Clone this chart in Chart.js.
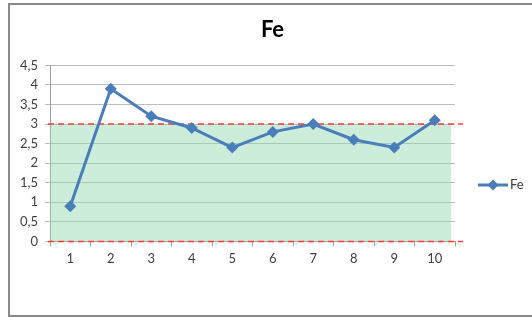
<!DOCTYPE html>
<html>
<head>
<meta charset="utf-8">
<script src="https://cdn.jsdelivr.net/npm/chart.js@4/dist/chart.umd.min.js"></script>
<style>
  html, body { margin: 0; padding: 0; background: #ffffff; }
  #wrap { position: relative; width: 532px; height: 320px; overflow: hidden; }
  #frame { position: absolute; left: 8px; top: 3px; width: 600px; height: 314px; border: 2px solid #8a8a8a; box-sizing: border-box; }
  #c { position: absolute; left: 0; top: 0; }
</style>
</head>
<body>
<div id="wrap">
  <div id="frame"></div>
  <canvas id="c" width="532" height="320"></canvas>
</div>
<script>
// Sample numbers on the x axis
const categories = ['1', '2', '3', '4', '5', '6', '7', '8', '9', '10'];
// Measured Fe concentration per sample
const feValues = [0.9, 3.9, 3.2, 2.9, 2.4, 2.8, 3.0, 2.6, 2.4, 3.1];
// Accepted range (lower and upper limit)
const limitLow = [0];
const limitHigh = [3];
// Y axis tick values
const yTicks = [0, 0.5, 1, 1.5, 2, 2.5, 3, 3.5, 4, 4.5];

const lineColor = '#4a7ebb';
const fontFamily = 'Lato, "Open Sans", sans-serif';

// Green band for the accepted range plus dashed limit lines
const rangeBand = {
  id: 'rangeBand',
  beforeDatasetsDraw(chart) {
    const { ctx, chartArea, scales } = chart;
    const y = scales.y;
    const top = y.getPixelForValue(limitHigh[0]);
    const bottom = y.getPixelForValue(limitLow[0]);
    ctx.save();
    ctx.fillStyle = 'rgba(140, 215, 172, 0.45)';
    ctx.fillRect(chartArea.left, top, chartArea.right - chartArea.left - 4, bottom - top);
    ctx.strokeStyle = '#ff3b3b';
    ctx.lineWidth = 1.5;
    ctx.setLineDash([6, 4]);
    [top, bottom].forEach(py => {
      ctx.beginPath();
      ctx.moveTo(chartArea.left - 2, py);
      ctx.lineTo(chartArea.right + 8, py);
      ctx.stroke();
    });
    ctx.restore();
  }
};

// Legend entry on the right: line with a diamond marker and the series name
const sideLegend = {
  id: 'sideLegend',
  afterDraw(chart) {
    const { ctx } = chart;
    const ds = chart.data.datasets[0];
    const x0 = 478, x1 = 508, cy = 185;
    ctx.save();
    ctx.strokeStyle = ds.borderColor;
    ctx.lineWidth = 3;
    ctx.beginPath();
    ctx.moveTo(x0, cy);
    ctx.lineTo(x1, cy);
    ctx.stroke();
    const cx = (x0 + x1) / 2, r = 5.5;
    ctx.fillStyle = ds.pointBackgroundColor;
    ctx.beginPath();
    ctx.moveTo(cx, cy - r);
    ctx.lineTo(cx + r, cy);
    ctx.lineTo(cx, cy + r);
    ctx.lineTo(cx - r, cy);
    ctx.closePath();
    ctx.fill();
    ctx.fillStyle = '#404040';
    ctx.font = '13px ' + fontFamily;
    ctx.textBaseline = 'middle';
    ctx.textAlign = 'left';
    ctx.fillText(ds.label, x1 + 2, cy);
    ctx.restore();
  }
};

new Chart(document.getElementById('c'), {
  type: 'line',
  data: {
    labels: categories,
    datasets: [{
      label: 'Fe',
      data: feValues,
      borderColor: lineColor,
      backgroundColor: lineColor,
      pointBackgroundColor: lineColor,
      pointBorderColor: lineColor,
      borderWidth: 3,
      pointStyle: 'rectRot',
      pointRadius: 6,
      pointBorderWidth: 0,
      tension: 0,
      fill: false
    }]
  },
  options: {
    responsive: false,
    animation: false,
    layout: { padding: { left: 13, right: 0, top: 9, bottom: 48 } },
    plugins: {
      legend: { display: false },
      tooltip: { enabled: false },
      title: {
        display: true,
        text: 'Fe',
        color: '#000000',
        font: { family: fontFamily, size: 22, weight: 'bold' },
        padding: { top: 8, bottom: 22 }
      }
    },
    scales: {
      x: {
        offset: true,
        grid: {
          offset: true,
          drawOnChartArea: false,
          drawTicks: true,
          tickLength: 5,
          color: '#a0a0a0'
        },
        border: { display: true, color: '#a0a0a0' },
        ticks: {
          color: '#404040',
          font: { family: fontFamily, size: 13 },
          padding: 5,
          maxRotation: 0
        }
      },
      y: {
        min: 0,
        max: 4.5,
        afterBuildTicks(scale) {
          scale.ticks = yTicks.map(v => ({ value: v }));
        },
        grid: {
          color: '#bdbdbd',
          lineWidth: 1,
          tickLength: 5
        },
        border: { display: true, color: '#a0a0a0' },
        ticks: {
          color: '#404040',
          font: { family: fontFamily, size: 13 },
          padding: 7,
          callback: v => String(v).replace('.', ',')
        }
      },
      side: {
        position: 'right',
        display: true,
        grid: { display: false },
        border: { display: false },
        ticks: { display: false },
        afterFit(scale) { scale.width = 77; }
      }
    }
  },
  plugins: [rangeBand, sideLegend]
});
</script>
</body>
</html>
